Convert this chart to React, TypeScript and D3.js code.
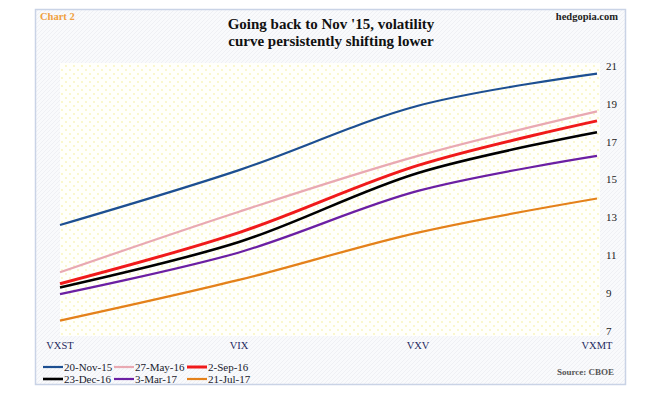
import * as d3 from "d3";

const W = 660;
const H = 393;

// VIX term structure, by date
const categories = ["VXST", "VIX", "VXV", "VXMT"];
const yTicks = [7, 9, 11, 13, 15, 17, 19, 21];

const nov15 = [12.6, 15.5, 18.9, 20.6];
const may16 = [10.1, 13.3, 16.25, 18.6];
const sep16 = [9.5, 12.2, 15.75, 18.1];
const dec16 = [9.3, 11.7, 15.35, 17.5];
const mar17 = [8.95, 11.15, 14.4, 16.25];
const jul17 = [7.55, 9.7, 12.2, 14.0];

const series = [
  { name: "20-Nov-15", values: nov15, color: "#1d4f91", width: 2.2 },
  { name: "27-May-16", values: may16, color: "#e9a9b2", width: 2.2 },
  { name: "2-Sep-16", values: sep16, color: "#f01a1a", width: 3 },
  { name: "23-Dec-16", values: dec16, color: "#000000", width: 2.6 },
  { name: "3-Mar-17", values: mar17, color: "#6b1fa3", width: 2.2 },
  { name: "21-Jul-17", values: jul17, color: "#e4811a", width: 2.2 },
];

const serif = "'Liberation Serif', 'Times New Roman', serif";

export default function App() {
  const x = d3.scalePoint<string>().domain(categories).range([60, 597]);
  const y = d3.scaleLinear().domain([7, 21]).range([331, 66]);

  const line = d3
    .line<number>()
    .x((_, i) => x(categories[i]) as number)
    .y((d) => y(d))
    .curve(d3.curveCatmullRom.alpha(0.5));

  // legend sits in 2 rows of 3
  const legendX = [43, 114, 187];
  const legendY = [367, 379];

  return (
    <svg
      width={W}
      height={H}
      style={{ position: "absolute", left: 0, top: 0, background: "#fff" }}
    >
      <defs>
        <pattern id="dots" width="8" height="8" patternUnits="userSpaceOnUse">
          <rect width="8" height="8" fill="#fffffb" />
          <circle cx="2" cy="2" r="0.9" fill="#f9f4b8" />
          <circle cx="6" cy="6" r="0.9" fill="#f9f4b8" />
        </pattern>
        <pattern id="hatch" width="4" height="4" patternUnits="userSpaceOnUse">
          <rect width="4" height="4" fill="#f9fafc" />
          <path d="M0,4 L4,0" stroke="#eceef3" strokeWidth="0.8" />
        </pattern>
      </defs>

      {/* frame */}
      <rect x={35.5} y={9.5} width={590} height={375} fill="url(#hatch)" stroke="#c9d3e6" strokeWidth={1.5} />

      {/* plot area */}
      <rect x={60} y={63} width={540} height={273} fill="url(#dots)" />

      <text x={40} y={20} fontFamily={serif} fontWeight="bold" fontSize={10.5} fill="#f0a040">
        Chart 2
      </text>
      <text x={618} y={20} textAnchor="end" fontFamily={serif} fontWeight="bold" fontSize={10.5} fill="#222">
        hedgopia.com
      </text>
      <text x={331} y={29} textAnchor="middle" fontFamily={serif} fontWeight="bold" fontSize={15} fill="#111">
        Going back to Nov '15, volatility
      </text>
      <text x={331} y={46} textAnchor="middle" fontFamily={serif} fontWeight="bold" fontSize={15} fill="#111">
        curve persistently shifting lower
      </text>

      {/* right axis labels */}
      {yTicks.map((t) => (
        <text key={t} x={606} y={y(t)} dy="0.35em" fontFamily={serif} fontSize={11} fill="#222">
          {t}
        </text>
      ))}

      {/* category labels */}
      {categories.map((c) => (
        <text key={c} x={x(c)} y={345} dy="0.35em" textAnchor="middle" fontFamily={serif} fontSize={10.5} fill="#1f2a60">
          {c}
        </text>
      ))}

      {series.map((s) => (
        <path key={s.name} d={line(s.values) as string} fill="none" stroke={s.color} strokeWidth={s.width} />
      ))}

      {/* legend */}
      {series.map((s, i) => {
        const lx = legendX[i % 3];
        const ly = legendY[Math.floor(i / 3)];
        return (
          <g key={s.name} transform={`translate(${lx},${ly})`}>
            <line x1={0} x2={20} y1={0} y2={0} stroke={s.color} strokeWidth={s.width} />
            <text x={21} y={0} dy="0.35em" fontFamily={serif} fontSize={11} fill="#1a1a2e">
              {s.name}
            </text>
          </g>
        );
      })}

      <text x={614} y={372} dy="0.35em" textAnchor="end" fontFamily={serif} fontWeight="bold" fontSize={9} fill="#555">
        Source: CBOE
      </text>
    </svg>
  );
}
